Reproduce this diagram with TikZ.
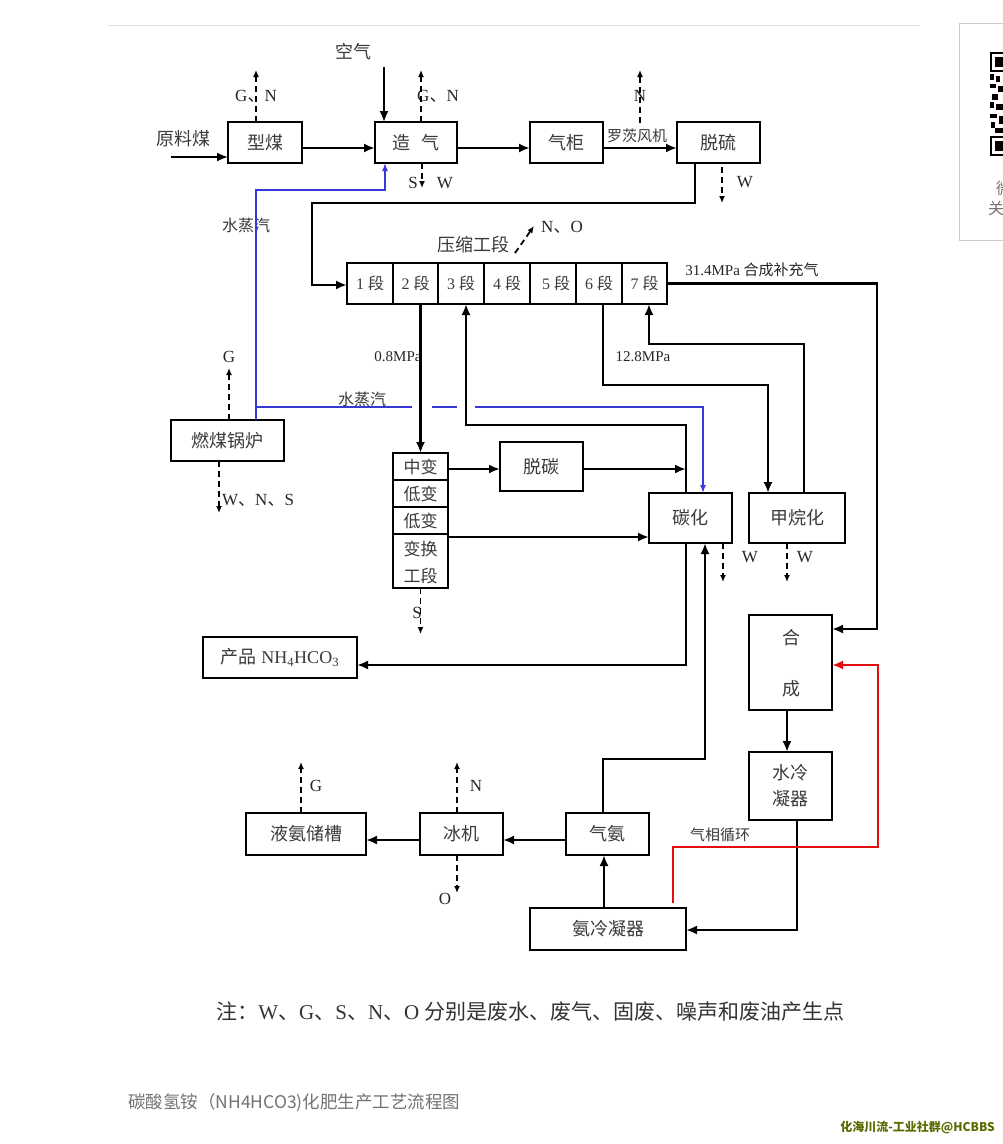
\documentclass[tikz,border=0pt]{standalone}
\usepackage{fontspec}
\setmainfont{Liberation Serif}
\newfontfamily\cjk{Noto Sans CJK SC}
\usetikzlibrary{arrows.meta,calc}
\definecolor{txt}{HTML}{3A3A3A}
\definecolor{steam}{rgb}{0.22,0.22,0.85}
\definecolor{recyc}{rgb}{0.9,0.05,0.05}
\definecolor{wm}{HTML}{5A6B00}
\tikzset{
 box/.style={draw, line width=2.6pt, inner sep=0pt, outer sep=0pt, font=\fontsize{18}{21}\selectfont\cjk, text=txt},
 cell/.style={inner sep=0pt, outer sep=0pt, font=\fontsize{16}{19}\selectfont, text=txt},
 flow/.style={line width=2.4pt, -{Latex[length=11pt,width=9pt]}},
 emis/.style={line width=1.8pt, dash pattern=on 6pt off 4pt, -{Latex[length=7pt,width=6pt]}},
 steamline/.style={draw=steam, line width=1.5pt},
 recline/.style={draw=recyc, line width=2.6pt},
 cn/.style={font=\fontsize{18}{21}\selectfont\cjk, text=txt, inner sep=1pt},
 cns/.style={font=\fontsize{15}{18}\selectfont\cjk, text=txt, inner sep=1pt},
 lt/.style={font=\fontsize{17}{20}\selectfont, text=black!85, inner sep=1pt},
 lts/.style={font=\fontsize{15}{18}\selectfont, text=black!85, inner sep=1pt},
}
\begin{document}
\begin{tikzpicture}[x=1pt,y=-1pt]
\useasboundingbox (0,0) rectangle (1003,1144);
\fill[white] (0,0) rectangle (1003,1144);
% page decorations
\draw[black!12, line width=1pt] (108,25) -- (920,25);
\draw[black!20, line width=0.8pt] (959,23) rectangle (1015,240);
\draw[black, line width=2.5pt] (991,53) rectangle (1010,71);
\fill[black] (995,57) rectangle (1003,67);
\draw[black, line width=2.5pt] (991,137) rectangle (1010,155);
\fill[black] (995,141) rectangle (1003,151);
\fill[black] (990,74) rectangle (994,80);
\fill[black] (996,76) rectangle (1000,82);
\fill[black] (990,84) rectangle (996,88);
\fill[black] (998,86) rectangle (1003,92);
\fill[black] (992,94) rectangle (998,100);
\fill[black] (990,102) rectangle (994,108);
\fill[black] (996,104) rectangle (1003,110);
\fill[black] (990,114) rectangle (997,118);
\fill[black] (999,116) rectangle (1003,124);
\fill[black] (991,122) rectangle (995,128);
\fill[black] (995,128) rectangle (1003,133);
\node[anchor=west, font=\fontsize{16}{18}\selectfont\cjk, text=black!55, inner sep=0pt] (wx) at (996,188) {微信};
\node[anchor=west, font=\fontsize{16}{18}\selectfont\cjk, text=black!55, inner sep=0pt] (gz) at (988,208) {关注};

% boxes
\node[box, minimum width=74, minimum height=41] (xm) at (265,142.5) {型煤};
\node[box, minimum width=82, minimum height=41] (zq) at (416,142.5) {造\hspace{0.6em}气};
\node[box, minimum width=73, minimum height=41] (qg) at (566.5,142.5) {气柜};
\node[box, minimum width=83, minimum height=41] (tl) at (718.5,142.5) {脱硫};
\node[box, minimum width=113, minimum height=41] (gl) at (227.5,440.5) {燃煤锅炉};
\node[box, minimum width=83, minimum height=49] (tt) at (541.5,466.5) {脱碳};
\node[box, minimum width=83, minimum height=50] (th) at (690.5,518) {碳化};
\node[box, minimum width=96, minimum height=50] (jw) at (797,518) {甲烷化};
\node[box, minimum width=154, minimum height=41, font=\fontsize{18}{21}\selectfont] (cp) at (280,657.5) {{\cjk 产品} NH\textsubscript{4}HCO\textsubscript{3}};
\node[box, minimum width=83, minimum height=95] (hc) at (790.5,662.5) {};
\node[cn] (hc1) at (791,638) {合};
\node[cn] (hc2) at (791,689) {成};
\node[box, minimum width=83, minimum height=68, align=center, font=\fontsize{18}{26}\selectfont\cjk] (sl) at (790.5,786) {水冷\\凝器};
\node[box, minimum width=120, minimum height=42] (ya) at (306,834) {液氨储槽};
\node[box, minimum width=83, minimum height=42] (bj) at (461.5,834) {冰机};
\node[box, minimum width=83, minimum height=42] (qa) at (607.5,834) {气氨};
\node[box, minimum width=156, minimum height=42] (al) at (608,929) {氨冷凝器};

% compression section
\node[box, minimum width=320, minimum height=41] (ys) at (507,283.5) {};
\node[cell, minimum width=46, minimum height=41] (c1) at (370,283.5) {1 {\cjk 段}};
\node[cell, minimum width=45, minimum height=41] (c2) at (415.5,283.5) {2 {\cjk 段}};
\node[cell, minimum width=46, minimum height=41] (c3) at (461,283.5) {3 {\cjk 段}};
\node[cell, minimum width=46, minimum height=41] (c4) at (507,283.5) {4 {\cjk 段}};
\node[cell, minimum width=46, minimum height=41] (c5) at (553,283.5) {\hspace{6pt}5 {\cjk 段}};
\node[cell, minimum width=46, minimum height=41] (c6) at (599,283.5) {6 {\cjk 段}};
\node[cell, minimum width=45, minimum height=41] (c7) at (644.5,283.5) {7 {\cjk 段}};
\foreach \c in {c1,c2,c3,c4,c5,c6} \draw[line width=1.1pt] (\c.north east) -- (\c.south east);

% shift section
\node[box, minimum width=55, minimum height=135] (sh) at (420.5,520.5) {};
\node[cell, font=\fontsize{17}{20}\selectfont\cjk, minimum width=55, minimum height=27] (s1) at (420.5,466.5) {中变};
\node[cell, font=\fontsize{17}{20}\selectfont\cjk, minimum width=55, minimum height=27] (s2) at (420.5,493.5) {低变};
\node[cell, font=\fontsize{17}{20}\selectfont\cjk, minimum width=55, minimum height=27] (s3) at (420.5,520.5) {低变};
\node[cell, font=\fontsize{17}{27}\selectfont\cjk, align=center, minimum width=55, minimum height=54] (s4) at (420.5,562) {变换\\工段};
\foreach \c in {s1,s2,s3} \draw[line width=1.8pt] (\c.south west) -- (\c.south east);

% labels
\node[cn] (l1) at (183,139) {原料煤};
\node[cn] (l2) at (353,52) {空气};
\node[lt] (l3) at (256,96) {G{\cjk 、}N};
\node[lt] (l4) at (438,96) {G{\cjk 、}N};
\node[lt] (l5) at (413,183) {S};
\node[lt] (l6) at (445,183) {W};
\node[lt] (l7) at (640,96) {N};
\node[lt] (l8) at (745,182) {W};
\node[cns] (l9) at (637,136) {罗茨风机};
\node[cn, font=\fontsize{16}{19}\selectfont\cjk] (l10) at (246,225) {水蒸汽};
\node[cn] (l11) at (473,245) {压缩工段};
\node[lt] (l12) at (562,227) {N{\cjk 、}O};
\node[lts] (l13) at (752,270) {31.4MPa {\cjk 合成补充气}};
\node[lts] (l14) at (398,357) {0.8MPa};
\node[lts] (l15) at (643,357) {12.8MPa};
\node[cn, font=\fontsize{16}{19}\selectfont\cjk] (l16) at (362,399) {水蒸汽};
\node[lt] (l17) at (229,357) {G};
\node[lt, anchor=west] (l18) at (221,500) {W{\cjk 、}N{\cjk 、}S};
\node[lt] (l19) at (417,613) {S};
\node[lt] (l20) at (750,557) {W};
\node[lt] (l21) at (805,557) {W};
\node[lt] (l22) at (316,786) {G};
\node[lt] (l23) at (476,786) {N};
\node[lt] (l24) at (445,899) {O};
\node[cns] (l25) at (720,835) {气相循环};

% flows
\coordinate (raw) at (171,157);
\draw[flow, line width=1.8pt] (raw) -- (raw -| xm.west);
\coordinate (air) at (384,67);
\draw[flow, line width=1.8pt] (air) -- (air |- zq.north);
\draw[flow] ([yshift=-5.5pt]xm.east) -- ([yshift=-5.5pt]zq.west);
\draw[flow] ([yshift=-5.5pt]zq.east) -- ([yshift=-5.5pt]qg.west);
\draw[flow] ([yshift=-5.5pt]qg.east) -- ([yshift=-5.5pt]tl.west);
\draw[flow] ([xshift=-23.5pt]tl.south) |- (312,203) |- ([yshift=-1.5pt]ys.west);
\draw[flow] (ys.east) -| (877,629) -- ([yshift=33.5pt]hc.east);
\draw[flow] (c2.south -| sh.north) -- (sh.north);
\draw[flow] ([xshift=4pt]c6.south) |- (768,385) -- ([xshift=-29pt]jw.north);
\draw[flow] ([xshift=7pt]jw.north) |- (649,344) -- ([xshift=4.5pt]c7.south);
\draw[flow] ([xshift=-4.5pt]th.north) |- (466,425) -- ([xshift=5pt]c3.south);
\draw[flow] ([yshift=-2.5pt]s1.east) -- ([yshift=-2.5pt]tt.west);
\coordinate (j1) at (686,469);
\draw[flow] ([yshift=-2.5pt]tt.east) -- (j1);
\draw[flow] ([yshift=-3pt]s3.south east) -- ([yshift=-19pt]th.west);
\draw[flow] ([xshift=-4.5pt]th.south) |- ([yshift=-7.5pt]cp.east);
\draw[flow] ([xshift=-4.5pt]qa.north) |- (705,759) -- ([xshift=14.5pt]th.south);
\draw[flow] ([xshift=-4pt]al.north) -- ([xshift=-3.5pt]qa.south);
\draw[flow] ([yshift=-6pt]qa.west) -- ([yshift=-6pt]bj.east);
\draw[flow] ([yshift=-6pt]bj.west) -- ([yshift=-6pt]ya.east);
\draw[flow] ([xshift=-3.5pt]hc.south) -- ([xshift=-3.5pt]sl.north);
\draw[flow] ([xshift=6.5pt]sl.south) |- ([yshift=-1pt]al.east);
\draw[recline, -{Latex[length=11pt,width=9pt]}] ([xshift=65pt,yshift=5pt]al.north) -- (673,847) -- (878,847) -- (878,665) -- ([yshift=-2.5pt]hc.east);

% steam
\draw[steamline, -{Latex[length=8pt,width=6pt]}] ([xshift=28.5pt]gl.north) -- (256,190) -- (385,190) -- ([xshift=-31pt]zq.south);
\coordinate (st0) at (256,407);
\draw[steamline] (st0) -- (412,407);
\draw[steamline] (432,407) -- (457,407);
\draw[steamline, -{Latex[length=8pt,width=6pt]}] (475,407) -- (703,407) -- ([xshift=12.5pt]th.north);

% emissions
\draw[emis] ([xshift=-9pt]xm.north) -- ++(0,-52);
\draw[emis] ([xshift=5pt]zq.north) -- ++(0,-52);
\draw[emis] ([xshift=6pt]zq.south) -- ++(0,25);
\coordinate (fan) at (640,123);
\draw[emis] (fan) -- ++(0,-53);
\draw[emis] ([xshift=3.5pt,yshift=-4pt]tl.south) -- ++(0,36);
\draw[emis] ([xshift=8pt,yshift=10pt]ys.north) -- ++(19,-27);
\draw[emis] ([xshift=1.5pt]gl.north) -- ++(0,-52);
\draw[emis] ([xshift=-8.5pt]gl.south) -- ++(0,52);
\draw[emis] (sh.south) -- ++(0,46);
\draw[emis] ([xshift=32.5pt]th.south) -- ++(0,39);
\draw[emis] ([xshift=-10pt]jw.south) -- ++(0,39);
\draw[emis] ([xshift=-5pt]ya.north) -- ++(0,-51);
\draw[emis] ([xshift=-4.5pt]bj.north) -- ++(0,-51);
\draw[emis] ([xshift=-4.5pt]bj.south) -- ++(0,38);

% notes
\node[font=\fontsize{21}{24}\selectfont, text=black!80, inner sep=0pt] (note) at (530.5,1012) {{\cjk 注：}W{\cjk 、}G{\cjk 、}S{\cjk 、}N{\cjk 、}O {\cjk 分别是废水、废气、固废、噪声和废油产生点}};
\node[anchor=west, font=\fontsize{17.5}{20}\selectfont\cjk, text=black!55, inner sep=0pt] (cap) at (128,1103) {碳酸氢铵（NH4HCO3)化肥生产工艺流程图};
\node[anchor=east, font=\fontsize{12}{14}\selectfont\cjk\bfseries, text=wm, inner sep=0pt] (wmk) at (995,1128) {化海川流-工业社群@HCBBS};
\end{tikzpicture}
\end{document}
